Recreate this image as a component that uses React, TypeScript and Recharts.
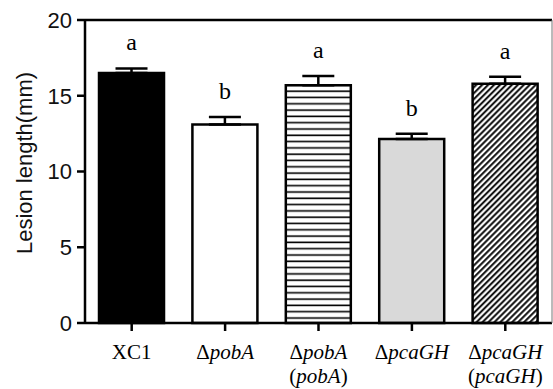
import React from 'react';
import {
  BarChart,
  Bar,
  XAxis,
  YAxis,
  ErrorBar,
  Cell,
  LabelList,
  ReferenceLine,
} from 'recharts';

// ---- data ----
const categories = ['XC1', 'ΔpobA', 'ΔpobA(pobA)', 'ΔpcaGH', 'ΔpcaGH(pcaGH)'];
const tickLine1 = ['XC1', 'ΔpobA', 'ΔpobA', 'ΔpcaGH', 'ΔpcaGH'];
const tickLine2 = ['', '', '(pobA)', '', '(pcaGH)'];
const means = [16.5, 13.1, 15.7, 12.15, 15.8];
const errors = [0.3, 0.5, 0.6, 0.35, 0.45];
const letters = ['a', 'b', 'a', 'b', 'a'];
const yTicks = [0, 5, 10, 15, 20];
const fills = ['#000000', '#ffffff', 'url(#hlines)', '#d9d9d9', 'url(#diag)'];

const data = categories.map((c, i) => ({
  name: c,
  value: means[i],
  err: [0, errors[i]],
  letter: letters[i],
}));

const SERIF = '"Liberation Serif", "Times New Roman", serif';
const SANS = '"Liberation Sans", Arial, sans-serif';

function renderSegments(text: string, upright: boolean) {
  if (upright) return [<tspan key="0">{text}</tspan>];
  const parts = text.split(/([Δ()])/).filter((p) => p !== '');
  return parts.map((p, i) =>
    /^[Δ()]$/.test(p) ? (
      <tspan key={i}>{p}</tspan>
    ) : (
      <tspan key={i} fontStyle="italic">
        {p}
      </tspan>
    )
  );
}

const XTick = (props: any) => {
  const { x, y, index } = props;
  const upright = index === 0;
  return (
    <g>
      <text
        x={x}
        y={y + 26}
        textAnchor="middle"
        fontFamily={SERIF}
        fontSize={21}
        fill="#000"
      >
        {renderSegments(tickLine1[index], upright)}
      </text>
      {tickLine2[index] ? (
        <text
          x={x}
          y={y + 50}
          textAnchor="middle"
          fontFamily={SERIF}
          fontSize={21}
          fill="#000"
        >
          {renderSegments(tickLine2[index], upright)}
        </text>
      ) : null}
    </g>
  );
};

const LetterLabel = (props: any) => {
  const { x, y, width, height, index, value } = props;
  const pxPerUnit = height / means[index];
  const top = y - errors[index] * pxPerUnit;
  return (
    <text
      x={x + width / 2}
      y={top - 18}
      textAnchor="middle"
      fontFamily={SERIF}
      fontSize={24}
      fill="#000"
    >
      {value}
    </text>
  );
};

export default function App() {
  return (
    <div style={{ position: 'absolute', left: 0, top: 0, background: '#fff' }}>
      <BarChart
        width={553}
        height={389}
        data={data}
        margin={{ top: 20, right: 0, left: 0, bottom: 0 }}
        barCategoryGap="15%"
      >
        <defs>
          <pattern id="hlines" patternUnits="userSpaceOnUse" width={8} height={6.3}>
            <rect width={8} height={6.3} fill="#fff" />
            <line x1={0} y1={3} x2={8} y2={3} stroke="#000" strokeWidth={1.6} />
          </pattern>
          <pattern
            id="diag"
            patternUnits="userSpaceOnUse"
            width={4.2}
            height={10}
            patternTransform="rotate(45)"
          >
            <rect width={4.2} height={10} fill="#fff" />
            <line x1={2} y1={0} x2={2} y2={10} stroke="#000" strokeWidth={1.9} />
          </pattern>
        </defs>
        <XAxis
          dataKey="name"
          height={66}
          tick={<XTick />}
          tickSize={8}
          interval={0}
          axisLine={{ stroke: '#000', strokeWidth: 2.5 }}
          tickLine={{ stroke: '#000', strokeWidth: 2.5 }}
        />
        <YAxis
          width={85}
          domain={[0, 20]}
          ticks={yTicks}
          tickSize={8}
          tickMargin={5}
          interval={0}
          axisLine={{ stroke: '#000', strokeWidth: 2.5 }}
          tickLine={{ stroke: '#000', strokeWidth: 2.5 }}
          tick={{ fontFamily: SANS, fontSize: 22, fill: '#111' }}
          label={{
            content: () => (
              <text
                x={24}
                y={163}
                transform="rotate(-90, 24, 163)"
                textAnchor="middle"
                dominantBaseline="central"
                fontFamily={SANS}
                fontSize={22}
                fill="#111"
              >
                Lesion length(mm)
              </text>
            ),
          }}
        />
        <YAxis
          yAxisId="right"
          orientation="right"
          width={1}
          domain={[0, 20]}
          tick={false}
          tickLine={false}
          axisLine={{ stroke: '#777', strokeWidth: 1 }}
        />
        <ReferenceLine y={20} stroke="#000" strokeWidth={2.5} />
        <Bar
          dataKey="value"
          stroke="#000"
          strokeWidth={2.5}
          isAnimationActive={false}
        >
          {data.map((d, i) => (
            <Cell key={d.name} fill={fills[i]} />
          ))}
          <ErrorBar
            dataKey="err"
            width={16}
            stroke="#000"
            strokeWidth={2.5}
            direction="y"
            isAnimationActive={false}
          />
          <LabelList dataKey="letter" content={<LetterLabel />} />
        </Bar>
      </BarChart>
    </div>
  );
}
